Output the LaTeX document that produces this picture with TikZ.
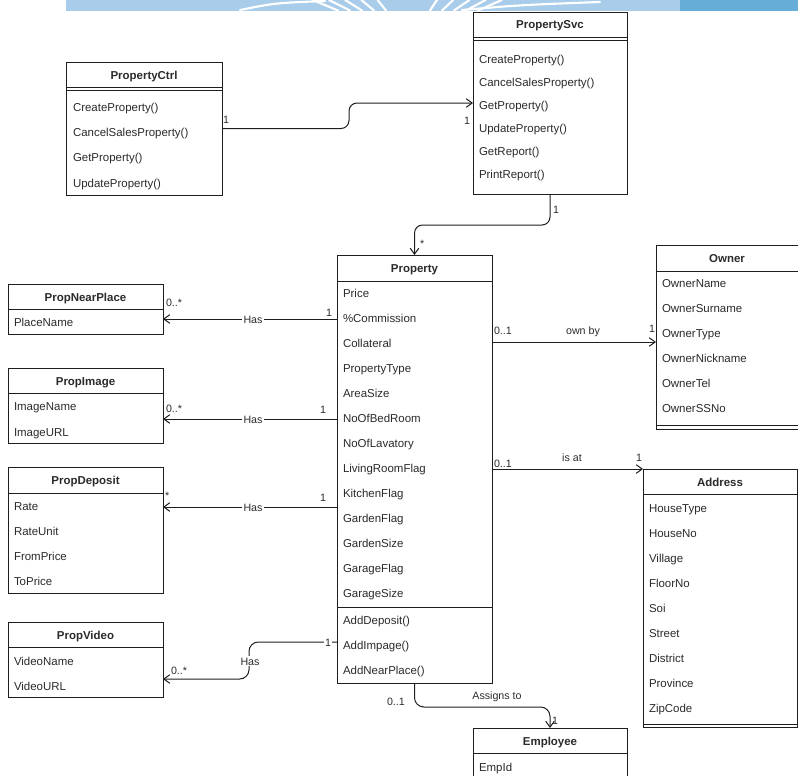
\documentclass[tikz,border=0pt]{standalone}
\usepackage{fontspec}
\setmainfont{Liberation Sans}
\usetikzlibrary{arrows.meta,fit}
\definecolor{ink}{HTML}{2B2B2B}
\definecolor{edge}{HTML}{1E1E1E}
\definecolor{bannerlight}{HTML}{A8CCE9}
\definecolor{bannerdark}{HTML}{66ADD8}

\begin{document}
\begin{tikzpicture}[x=0.75pt,y=-0.75pt,
  every node/.style={inner sep=0pt, outer sep=0pt, text=ink, font=\fontsize{8.6}{10}\selectfont},
  classbox/.style={draw=edge, line width=0.75pt, fill=white},
  sep/.style={draw=edge, line width=0.75pt},
  ctitle/.style={anchor=base, font=\fontsize{8.6}{10}\selectfont\bfseries},
  member/.style={anchor=base west},
  assoc/.style={draw=edge, line width=0.75pt, -{Straight Barb[length=4.5pt,width=6.5pt]}},
  mult/.style={anchor=base west, font=\fontsize{8}{9}\selectfont},
  elabel/.style={anchor=base, fill=white, inner sep=1pt, font=\fontsize{8}{9}\selectfont},
]
\path[use as bounding box, clip] (0,0) rectangle (798,775);

% banner strip along the top
\fill[bannerlight] (66,0) rectangle (680,10.5);
\fill[bannerdark] (680,0) rectangle (798,10.5);
\begin{scope}[white, line width=1.6pt, line cap=round]
  \draw (240,10) .. controls (275,3) .. (325,1);
  \draw (462,10) .. controls (520,5) .. (600,2);
  \foreach \x in {338,350,362,374,386,430,442,454,466,478}
    \draw (\x,10.5) -- ({\x+(\x-410)*0.35},0);
\end{scope}

% ---------- PropertyCtrl ----------
\node[classbox, fit={(66,62) (222,195)}] (ctrl) {};
\draw[sep] (66,87) -- (222,87);
\draw[sep] (66,90) -- (222,90);
\node[ctitle] at (ctrl.north |- 0,79) {PropertyCtrl};
\foreach \t/\y in {CreateProperty()/111, CancelSalesProperty()/136, GetProperty()/161, UpdateProperty()/187}
  \node[member] at (73,\y) {\t};

% ---------- PropertySvc ----------
\node[classbox, fit={(473,12) (627,194)}] (svc) {};
\draw[sep] (473,37) -- (627,37);
\draw[sep] (473,40) -- (627,40);
\node[ctitle] at (svc.north |- 0,28) {PropertySvc};
\foreach \t [count=\i from 0] in {CreateProperty(), CancelSalesProperty(), GetProperty(), UpdateProperty(), GetReport(), PrintReport()}
  \node[member] at (479,{63+23*\i}) {\t};

% ---------- Property ----------
\node[classbox, fit={(337,255) (492,683)}] (prop) {};
\draw[sep] (337,281) -- (492,281);
\draw[sep] (337,607) -- (492,607);
\node[ctitle] at (prop.north |- 0,272) {Property};
\foreach \t [count=\i from 0] in {Price, \%Commission, Collateral, PropertyType, AreaSize, NoOfBedRoom, NoOfLavatory, LivingRoomFlag, KitchenFlag, GardenFlag, GardenSize, GarageFlag, GarageSize}
  \node[member] at (343,{297+25*\i}) {\t};
\foreach \t [count=\i from 0] in {AddDeposit(), AddImpage(), AddNearPlace()}
  \node[member] at (343,{624+25*\i}) {\t};

% ---------- PropNearPlace ----------
\node[classbox, fit={(8,284) (163,334)}] (near) {};
\draw[sep] (8,309) -- (163,309);
\node[ctitle] at (near.north |- 0,301) {PropNearPlace};
\node[member] at (14,326) {PlaceName};

% ---------- PropImage ----------
\node[classbox, fit={(8,368) (163,443)}] (image) {};
\draw[sep] (8,393) -- (163,393);
\node[ctitle] at (image.north |- 0,385) {PropImage};
\node[member] at (14,410) {ImageName};
\node[member] at (14,436) {ImageURL};

% ---------- PropDeposit ----------
\node[classbox, fit={(8,467) (163,593)}] (deposit) {};
\draw[sep] (8,493) -- (163,493);
\node[ctitle] at (deposit.north |- 0,484) {PropDeposit};
\foreach \t [count=\i from 0] in {Rate, RateUnit, FromPrice, ToPrice}
  \node[member] at (14,{510+25*\i}) {\t};

% ---------- PropVideo ----------
\node[classbox, fit={(8,622) (163,697)}] (video) {};
\draw[sep] (8,647) -- (163,647);
\node[ctitle] at (video.north |- 0,639) {PropVideo};
\node[member] at (14,665) {VideoName};
\node[member] at (14,690) {VideoURL};

% ---------- Owner ----------
\node[classbox, fit={(656,245) (802,429)}] (owner) {};
\draw[sep] (656,271) -- (802,271);
\draw[sep] (656,425) -- (802,425);
\node[ctitle] at (727,262) {Owner};
\foreach \t [count=\i from 0] in {OwnerName, OwnerSurname, OwnerType, OwnerNickname, OwnerTel, OwnerSSNo}
  \node[member] at (662,{287+25*\i}) {\t};

% ---------- Address ----------
\node[classbox, fit={(643,469) (797,727)}] (address) {};
\draw[sep] (643,494) -- (797,494);
\draw[sep] (643,724) -- (797,724);
\node[ctitle] at (address.north |- 0,486) {Address};
\foreach \t [count=\i from 0] in {HouseType, HouseNo, Village, FloorNo, Soi, Street, District, Province, ZipCode}
  \node[member] at (649,{512+25*\i}) {\t};

% ---------- Employee ----------
\node[classbox, fit={(473,728) (627,790)}] (employee) {};
\draw[sep] (473,753) -- (627,753);
\node[ctitle] at (employee.north |- 0,745) {Employee};
\node[member] at (479,771) {EmpId};

% ---------- associations ----------
\draw[assoc, rounded corners=6pt] (ctrl.east) -- (349,128.5) |- (svc.west |- 0,103);
\node[mult] at (223,123) {1};
\node[mult] at (464,124) {1};

\draw[assoc, rounded corners=6pt] (svc.south) |- (prop.north |- 0,225) -- (prop.north);
\node[mult] at (553,213) {1};
\node[mult] at (420,247) {*};

\draw[assoc] (prop.west |- 0,319) -- (near.east |- 0,319);
\node[elabel] at (253,323) {Has};
\node[mult] at (166,306) {0..*};
\node[mult] at (326,316) {1};

\draw[assoc] (prop.west |- 0,419) -- (image.east |- 0,419);
\node[elabel] at (253,423) {Has};
\node[mult] at (166,412) {0..*};
\node[mult] at (320,413) {1};

\draw[assoc] (prop.west |- 0,507) -- (deposit.east |- 0,507);
\node[elabel] at (253,511) {Has};
\node[mult] at (165,499) {*};
\node[mult] at (320,501) {1};

\draw[assoc, rounded corners=7pt] (prop.west |- 0,642) -- (249,642) -- (249,679) -- (video.east |- 0,679);
\node[elabel] at (328,646) {1};
\node[elabel] at (250,665) {Has};
\node[mult] at (171,674) {0..*};

\draw[assoc] (prop.east |- 0,342) -- (owner.west |- 0,342);
\node[mult] at (494,334) {0..1};
\node[elabel, fill=none] at (583,334) {own by};
\node[mult] at (649,332) {1};

\draw[assoc] (prop.east |- 0,469) -- (address.west |- 0,469);
\node[mult] at (494,467) {0..1};
\node[elabel, fill=none] at (572,461) {is at};
\node[mult] at (636,461) {1};

\draw[assoc, rounded corners=7pt] (prop.south) |- (employee.north |- 0,707) -- (employee.north);
\node[mult] at (387,705) {0..1};
\node[elabel, fill=none] at (497,699) {Assigns to};
\node[mult] at (552,724) {1};
\end{tikzpicture}
\end{document}
